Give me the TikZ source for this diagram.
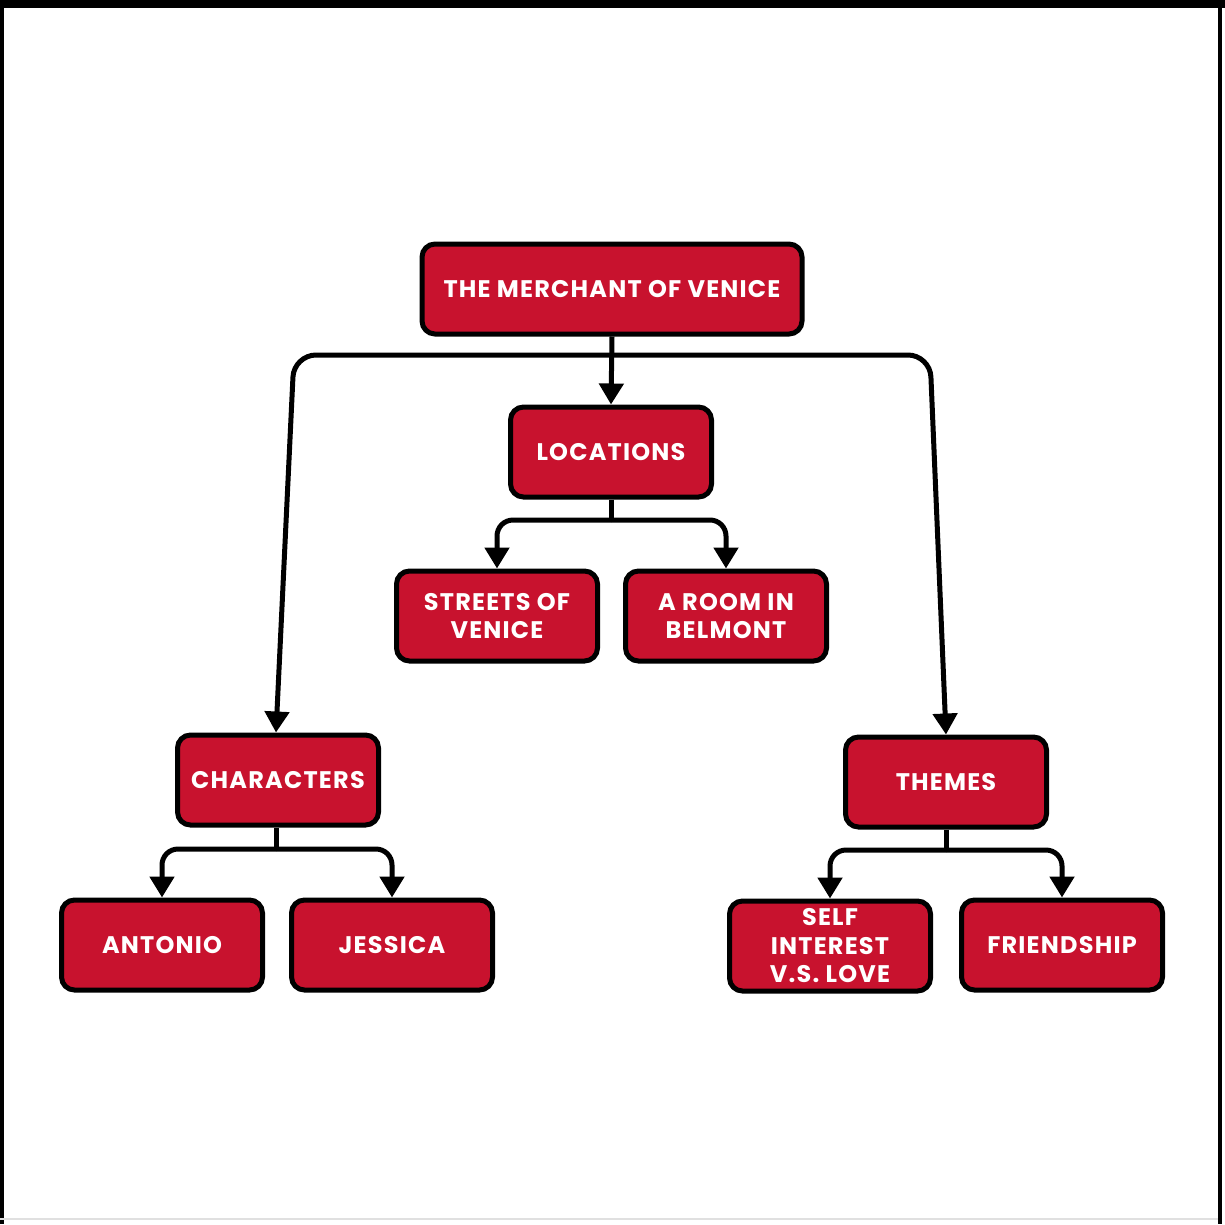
\documentclass[tikz,border=0pt]{standalone}
\usepackage{fontspec}
\setmainfont{Poppins}[LetterSpace=5]
\usetikzlibrary{arrows.meta}
\definecolor{boxred}{RGB}{200,18,46}
\tikzset{
  box/.style={rectangle, draw=black, line width=5pt, fill=boxred, rounded corners=13pt,
    minimum width=201pt, minimum height=90pt, text=white, align=center,
    font=\fontsize{24}{28.5}\selectfont\bfseries, inner sep=2pt},
  conn/.style={draw=black, line width=5pt, rounded corners=16pt,
    -{Triangle[width=24pt,length=21pt]}},
  plain/.style={draw=black, line width=5pt}
}
\begin{document}
\begin{tikzpicture}[x=1pt,y=-1pt]
\useasboundingbox (0,0) rectangle (1225,1224);
\fill[white] (0,0) rectangle (1225,1224);
% frame
\draw[black, line width=8pt] (0,4) -- (1225,4);
\draw[black, line width=4.5pt] (2,0) -- (2,1224);
\draw[black, line width=4.5pt] (1220,0) -- (1220,1224);
\draw[black!12, line width=2pt] (0,1219) -- (1218,1219);

\node[box, minimum width=380pt] (tm) at (612,289) {THE MERCHANT OF VENICE};
\node[box] (loc) at (611,452) {LOCATIONS};
\node[box] (sov) at (497,616) {STREETS OF\\VENICE};
\node[box] (rib) at (726,616) {A ROOM IN\\BELMONT};
\node[box] (chr) at (278,780) {CHARACTERS};
\node[box] (thm) at (946,782) {THEMES};
\node[box] (ant) at (162,945) {ANTONIO};
\node[box] (jes) at (392,945) {JESSICA};
\node[box] (sil) at (830,946) {SELF\\INTEREST\\V.S. LOVE};
\node[box] (fri) at (1062,945) {FRIENDSHIP};

\coordinate (hub) at (612,355);
\coordinate (hubl) at (294,355);
\coordinate (hubr) at (930,355);
\draw[conn] (tm.south) -- (loc.north);
\draw[conn, rounded corners=22pt] (hub) -- (hubl) -- ([xshift=-2pt]chr.north);
\draw[conn, rounded corners=22pt] (hub) -- (hubr) -- (thm.north);

\coordinate (lj) at (611,520);
\draw[plain] (loc.south) -- (lj);
\draw[conn] (lj) -| (sov.north);
\draw[conn] (lj) -| (rib.north);

\coordinate (cj) at (276,849);
\draw[plain] ([xshift=-2pt]chr.south) -- (cj);
\draw[conn] (cj) -| (ant.north);
\draw[conn] (cj) -| (jes.north);

\coordinate (tj) at (946,850);
\draw[plain] (thm.south) -- (tj);
\draw[conn] (tj) -| (sil.north);
\draw[conn] (tj) -| (fri.north);
\end{tikzpicture}
\end{document}
